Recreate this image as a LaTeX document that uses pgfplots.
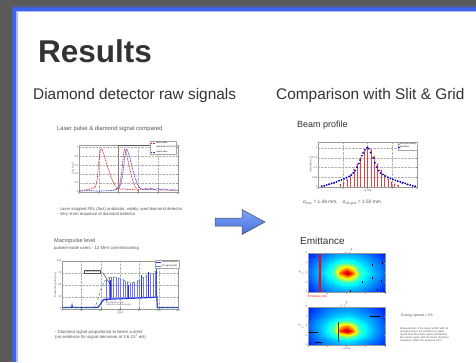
\documentclass[border=0pt]{standalone}
\usepackage{pgfplots}
\pgfplotsset{compat=1.18}
\usepackage{pgfplotstable}
\usepackage{fontspec}
\setmainfont{Liberation Sans}
\definecolor{bggray}{HTML}{5A5A5A}
\definecolor{slideblue}{HTML}{3D63F2}
\definecolor{txt}{HTML}{333333}
\definecolor{arrowtop}{HTML}{80A4F5}
\definecolor{arrowbot}{HTML}{4570E2}
\definecolor{dred}{HTML}{D01818}
\definecolor{dblue}{HTML}{2233DD}
\definecolor{dgreen}{HTML}{3A9A3A}
\definecolor{ltxt}{HTML}{555555}

\pgfplotsset{
  mini/.style={scale only axis, axis line style={gray!80, line width=0.3pt},
    tick style={gray, line width=0.25pt}, major tick length=1.2pt,
    tick label style={font=\fontsize{2.6}{3}\selectfont, text=ltxt, inner sep=0.6pt},
    label style={font=\fontsize{2.6}{3}\selectfont, text=ltxt, inner sep=0.5pt},
    /pgf/number format/assume math mode=true,
    legend style={font=\fontsize{2.2}{2.6}\selectfont, draw=gray!70, line width=0.2pt,
      inner sep=0.4pt, outer sep=0pt, row sep=-0.8pt, nodes={inner sep=0.4pt}},
    legend cell align=left,
    legend image code/.code={\draw[mark repeat=2,mark phase=2,#1] plot coordinates {(0pt,0pt) (2.5pt,0pt) (5pt,0pt)};},
    grid style={densely dotted, gray!60, line width=0.25pt},
  },
}

\pgfplotstableread[row sep=\\]{
x y v\\
0 0 0.14\\1 0 0.18\\2 0 0.21\\3 0 0.23\\4 0 0.26\\5 0 0.27\\6 0 0.28\\7 0 0.27\\8 0 0.26\\9 0 0.23\\10 0 0.21\\11 0 0.18\\12 0 0.14\\
0 1 0.17\\1 1 0.21\\2 1 0.25\\3 1 0.28\\4 1 0.31\\5 1 0.33\\6 1 0.34\\7 1 0.33\\8 1 0.31\\9 1 0.28\\10 1 0.25\\11 1 0.21\\12 1 0.17\\
0 2 0.19\\1 2 0.24\\2 2 0.28\\3 2 0.32\\4 2 0.36\\5 2 0.41\\6 2 0.44\\7 2 0.41\\8 2 0.36\\9 2 0.32\\10 2 0.28\\11 2 0.24\\12 2 0.19\\
0 3 0.21\\1 3 0.26\\2 3 0.30\\3 3 0.35\\4 3 0.42\\5 3 0.60\\6 3 0.72\\7 3 0.60\\8 3 0.42\\9 3 0.35\\10 3 0.30\\11 3 0.26\\12 3 0.21\\
0 4 0.22\\1 4 0.27\\2 4 0.32\\3 4 0.38\\4 4 0.46\\5 4 0.78\\6 4 0.96\\7 4 0.78\\8 4 0.46\\9 4 0.38\\10 4 0.32\\11 4 0.27\\12 4 0.22\\
0 5 0.21\\1 5 0.26\\2 5 0.30\\3 5 0.35\\4 5 0.42\\5 5 0.60\\6 5 0.72\\7 5 0.60\\8 5 0.42\\9 5 0.35\\10 5 0.30\\11 5 0.26\\12 5 0.21\\
0 6 0.19\\1 6 0.24\\2 6 0.28\\3 6 0.32\\4 6 0.36\\5 6 0.41\\6 6 0.44\\7 6 0.41\\8 6 0.36\\9 6 0.32\\10 6 0.28\\11 6 0.24\\12 6 0.19\\
0 7 0.17\\1 7 0.21\\2 7 0.25\\3 7 0.28\\4 7 0.31\\5 7 0.33\\6 7 0.34\\7 7 0.33\\8 7 0.31\\9 7 0.28\\10 7 0.25\\11 7 0.21\\12 7 0.17\\
0 8 0.14\\1 8 0.18\\2 8 0.21\\3 8 0.23\\4 8 0.26\\5 8 0.27\\6 8 0.28\\7 8 0.27\\8 8 0.26\\9 8 0.23\\10 8 0.21\\11 8 0.18\\12 8 0.14\\
}\heatA

\pgfplotstableread[row sep=\\]{
x y v\\
0 0 0.15\\1 0 0.19\\2 0 0.22\\3 0 0.25\\4 0 0.27\\5 0 0.29\\6 0 0.30\\7 0 0.29\\8 0 0.27\\9 0 0.25\\10 0 0.22\\11 0 0.19\\12 0 0.16\\
0 1 0.17\\1 1 0.22\\2 1 0.26\\3 1 0.29\\4 1 0.32\\5 1 0.35\\6 1 0.37\\7 1 0.35\\8 1 0.32\\9 1 0.29\\10 1 0.26\\11 1 0.22\\12 1 0.18\\
0 2 0.19\\1 2 0.24\\2 2 0.29\\3 2 0.34\\4 2 0.40\\5 2 0.50\\6 2 0.56\\7 2 0.49\\8 2 0.39\\9 2 0.34\\10 2 0.29\\11 2 0.24\\12 2 0.20\\
0 3 0.20\\1 3 0.26\\2 3 0.31\\3 3 0.37\\4 3 0.48\\5 3 0.82\\6 3 0.96\\7 3 0.78\\8 3 0.46\\9 3 0.37\\10 3 0.31\\11 3 0.26\\12 3 0.21\\
0 4 0.21\\1 4 0.26\\2 4 0.31\\3 4 0.36\\4 4 0.44\\5 4 0.66\\6 4 0.76\\7 4 0.62\\8 4 0.42\\9 4 0.36\\10 4 0.30\\11 4 0.25\\12 4 0.20\\
0 5 0.20\\1 5 0.25\\2 5 0.29\\3 5 0.33\\4 5 0.37\\5 5 0.42\\6 5 0.45\\7 5 0.41\\8 5 0.36\\9 5 0.32\\10 5 0.28\\11 5 0.24\\12 5 0.19\\
0 6 0.18\\1 6 0.22\\2 6 0.26\\3 6 0.29\\4 6 0.32\\5 6 0.34\\6 6 0.35\\7 6 0.34\\8 6 0.31\\9 6 0.29\\10 6 0.25\\11 6 0.22\\12 6 0.17\\
0 7 0.16\\1 7 0.20\\2 7 0.23\\3 7 0.26\\4 7 0.28\\5 7 0.29\\6 7 0.30\\7 7 0.29\\8 7 0.27\\9 7 0.25\\10 7 0.22\\11 7 0.20\\12 7 0.16\\
0 8 0.14\\1 8 0.18\\2 8 0.21\\3 8 0.23\\4 8 0.25\\5 8 0.26\\6 8 0.26\\7 8 0.26\\8 8 0.24\\9 8 0.22\\10 8 0.20\\11 8 0.17\\12 8 0.14\\
}\heatB

\begin{document}
\begin{tikzpicture}
\useasboundingbox (0pt,0pt) rectangle (476pt,362pt);
% slide background
\fill[bggray] (0pt,0pt) rectangle (476pt,362pt);
\fill[slideblue!55!bggray] (11.5pt,0pt) rectangle (476pt,355.5pt);
\fill[slideblue] (13pt,0pt) rectangle (476pt,354pt);
\fill[slideblue!45!white] (16pt,0pt) rectangle (476pt,351pt);
\fill[white] (17.5pt,0pt) rectangle (476pt,349.5pt);

% titles
\node[anchor=base west, inner sep=0pt, text=txt, font=\fontsize{31.5}{32}\selectfont\bfseries] at (38pt,299pt) {Results};
\node[anchor=base west, inner sep=0pt, text=txt, font=\fontsize{15.4}{16}\selectfont] at (33pt,262pt) {Diamond detector raw signals};
\node[anchor=base west, inner sep=0pt, text=txt, font=\fontsize{15.4}{16}\selectfont] at (276pt,262pt) {Comparison with Slit \& Grid};

% ---------- top-left chart
\node[anchor=base west, inner sep=0pt, text=ltxt, font=\fontsize{5.9}{6}\selectfont] at (57pt,232pt) {Laser pulse \& diamond signal compared};
\begin{axis}[mini, at={(79pt,170pt)}, anchor=south west, width=99pt, height=47pt,
  xmin=0, xmax=100, ymin=0, ymax=1.05,
  xtick={0,20,40,60,80,100}, xticklabels={0,2,4,6,8,10},
  ytick={0,0.2,0.4,0.6,0.8,1}, yticklabels={0,0.2,0.4,0.6,0.8,1},
  grid=major, ylabel={Sig. [a.u.]}, ylabel style={yshift=-1pt},
  legend style={at={(0.72,1.09)}, anchor=north west, row sep=0.6pt}]
\addplot[dred, line width=0.6pt, dash pattern=on 1pt off 0.7pt] coordinates {
(0,0.03)(4,0.04)(8,0.05)(12,0.07)(15,0.09)(17,0.14)(18.5,0.3)(19.5,0.55)(20.5,0.78)(21.5,0.92)(22.5,0.97)(23.5,0.95)(25,0.85)(27,0.7)(29,0.55)(31,0.42)(33,0.3)(35,0.2)(37,0.12)(39,0.08)(41,0.07)(43,0.06)(45,0.07)(48,0.06)(52,0.05)(56,0.05)(60,0.04)(65,0.06)(68,0.08)(70,0.05)(75,0.06)(78,0.04)(82,0.05)(86,0.04)(90,0.05)(95,0.03)(100,0.03)};
\addlegendentry{laser pulse}
\addlegendimage{empty legend}
\addlegendentry{diamond x 1E-4 (V)}
\addplot[dblue, line width=0.6pt, dash pattern=on 1pt off 0.7pt] coordinates {
(0,0.02)(10,0.03)(20,0.02)(30,0.03)(36,0.04)(40,0.08)(42,0.15)(44,0.35)(45.5,0.65)(47,0.88)(48,0.96)(49,0.93)(51,0.8)(53,0.62)(55,0.45)(57,0.3)(59,0.18)(61,0.1)(63,0.07)(66,0.05)(70,0.06)(73,0.09)(76,0.05)(80,0.08)(83,0.05)(86,0.07)(90,0.04)(95,0.05)(100,0.04)};
\addlegendentry{beam trace}
\addplot[dred, line width=0.6pt, dash pattern=on 1pt off 0.7pt, forget plot] coordinates {
(36,0.05)(39,0.08)(41,0.15)(43,0.4)(44.5,0.75)(45.5,0.92)(46.5,0.96)(48,0.85)(50,0.65)(52,0.45)(54,0.28)(56,0.15)(58,0.08)(60,0.05)};
\draw[gray, line width=0.4pt] (axis cs:39.4,0) -- (axis cs:39.4,1.05);
\draw[gray!70!black, line width=0.6pt] (axis cs:39.4,1.05) -- (axis cs:72,1.05);
\end{axis}
\node[anchor=base west, inner sep=0pt, text=ltxt, font=\fontsize{4.2}{4.5}\selectfont] at (57pt,152pt) {- Laser stopped FEL (fast) undulator, widely used diamond detector};
\node[anchor=base west, inner sep=0pt, text=ltxt, font=\fontsize{4.2}{4.5}\selectfont] at (57pt,147pt) {- Very short response of diamond detector};

% ---------- bottom-left chart
\node[anchor=base west, inner sep=0pt, text=ltxt, font=\fontsize{5.5}{6}\selectfont] at (54pt,120pt) {Macropulse level};
\node[anchor=base west, inner sep=0pt, text=ltxt, font=\fontsize{4.3}{4.5}\selectfont] at (54pt,113pt) {pulsed-mode users - 12 MeV commissioning};
\begin{axis}[mini, at={(62pt,53pt)}, anchor=south west, width=116pt, height=48pt,
  xmin=0, xmax=6, ymin=0, ymax=100,
  xtick={0,1,2,3,4,5,6}, xticklabels={0,20,40,60,80,100,120},
  ytick={0,25,50,75,100},
  grid=major, ylabel={Diamond signal [a.u.]}, xlabel={t [µs]},
  xlabel style={yshift=1.5pt}, ylabel style={yshift=-1pt},
  legend style={at={(1.01,1.01)}, anchor=north east}]
\addplot[dblue, line width=1.2pt] coordinates {
(0,3)(0.3,3.2)(0.5,3)(0.52,7)(0.54,3)(1,3.3)(1.5,3)(1.86,3.5)(1.95,8)(2.05,14)(2.15,19)(2.22,20)(2.5,20.5)(2.8,21)(3.1,21.5)(3.4,22)(3.7,22.5)(4.0,23)(4.3,23.5)(4.6,24)(4.91,25)(4.93,3)(5.5,3)(6,3)};
\addlegendentry{Diamond (beam)}
\addplot[blue!55, line width=0.25pt, unbounded coords=jump] coordinates {
(2.3,20)(2.3,60)(2.3,nan)(2.42,20)(2.42,64)(2.42,nan)(2.54,20)(2.54,66)(2.54,nan)(2.66,20)(2.66,67)(2.66,nan)(2.78,21)(2.78,66)(2.78,nan)(2.9,21)(2.9,64)(2.9,nan)(3.02,21)(3.02,62)(3.02,nan)(3.14,21)(3.14,61)(3.14,nan)(3.26,22)(3.26,59)(3.26,nan)(3.38,22)(3.38,57)(3.38,nan)(3.5,22)(3.5,55)(3.5,nan)(3.62,22)(3.62,55)(3.62,nan)(3.74,22)(3.74,56)(3.74,nan)(3.86,23)(3.86,58)(3.86,nan)(3.98,23)(3.98,60)(3.98,nan)(4.1,23)(4.1,63)(4.1,nan)(4.22,23)(4.22,66)(4.22,nan)(4.34,24)(4.34,69)(4.34,nan)(4.46,24)(4.46,71)(4.46,nan)(4.58,24)(4.58,73)(4.58,nan)(4.7,24)(4.7,76)(4.7,nan)(4.82,25)(4.82,78)};
\addlegendentry{FC signal (x10)}
\addplot[dblue, line width=0.55pt, unbounded coords=jump, forget plot] coordinates {
(2.48,20)(2.48,60)(2.48,nan)(3.41,22)(3.41,50)(3.41,nan)(4.09,23)(4.09,71)(4.09,nan)(4.45,24)(4.45,77)(4.45,nan)(4.87,25)(4.87,85)};
\addplot[dgreen, line width=0.5pt, densely dashed, forget plot] coordinates {
(0,3)(1.6,3)(1.75,8)(1.9,25)(2.05,45)(2.2,58)(2.4,65)(2.6,67)(2.85,66)(3.1,62)(3.35,57)(3.6,55)(3.8,56)(4.0,61)(4.25,67)(4.5,72)(4.75,77)(4.88,79)(4.9,40)(4.93,3)(6,3)};
\draw[black, line width=0.3pt] (axis cs:2.1,76) -- (axis cs:2.55,48);
\node[draw=ltxt, line width=0.2pt, fill=white, inner sep=0.6pt, font=\fontsize{2.6}{3}\selectfont, text=ltxt] at (axis cs:1.55,78) {Laser pulses};
\draw[black, line width=0.3pt] (axis cs:2.28,20) -- (axis cs:2.33,15);
\node[anchor=north west, inner sep=0.2pt, align=left, font=\fontsize{2.2}{2.5}\selectfont, text=ltxt] at (axis cs:2.25,15) {first electrons from\\[-0.8pt] cathode in machine pulse};
\end{axis}
\node[anchor=base west, inner sep=0pt, text=ltxt, font=\fontsize{4.3}{4.5}\selectfont] at (55pt,29pt) {- Diamond signal proportional to beam current};
\node[anchor=base west, inner sep=0pt, text=ltxt, font=\fontsize{4.3}{4.5}\selectfont] at (55pt,23.5pt) {(no evidence for signal decrease at 3.6·10\textsuperscript{7} e/s)};

% ---------- arrow
\path[draw=gray!60!black, line width=0.5pt, top color=arrowtop, bottom color=arrowbot]
  (215pt,136pt) -- (242pt,136pt) -- (242pt,127.5pt) -- (265pt,140pt) -- (242pt,152.5pt) -- (242pt,144pt) -- (215pt,144pt) -- cycle;

% ---------- beam profile
\node[anchor=base west, inner sep=0pt, text=txt, font=\fontsize{9}{10}\selectfont] at (297pt,234pt) {Beam profile};
\begin{axis}[mini, at={(318pt,175pt)}, anchor=south west, width=99pt, height=45pt,
  xmin=-8, xmax=8, ymin=0, ymax=1.15,
  xtick={-8,-4,0,4,8}, ytick={0,0.25,0.5,0.75,1},
  grid=major, xlabel={x [mm]}, ylabel={Intensity [a.u.]},
  xlabel style={yshift=1.5pt}, ylabel style={yshift=-1pt},
  legend style={at={(1,1)}, anchor=north east}]
\addplot[dred!80, line width=0.55pt, ycomb, forget plot] coordinates {
(-4.4,0.06)(-3.85,0.1)(-3.3,0.18)(-2.75,0.3)(-2.2,0.44)(-1.65,0.58)(-1.1,0.74)(-0.55,0.9)(0,1.02)(0.55,0.95)(1.1,0.78)(1.65,0.58)(2.2,0.42)(2.75,0.3)(3.3,0.2)(3.85,0.12)(4.4,0.07)(4.9,0.04)};
\addplot[dred, only marks, mark=x, mark size=0.8pt, line width=0.3pt, forget plot] coordinates {
(-4.4,0.06)(-3.85,0.1)(-3.3,0.18)(-2.75,0.3)(-2.2,0.44)(-1.65,0.58)(-1.1,0.74)(-0.55,0.9)(0,1.02)(0.55,0.95)(1.1,0.78)(1.65,0.58)(2.2,0.42)(2.75,0.3)(3.3,0.2)(3.85,0.12)(4.4,0.07)(4.9,0.04)(-6.2,0.07)(-5.4,0.1)(5.6,0.09)(6.4,0.06)};
\addplot[blue!85!black, only marks, mark=*, mark size=0.7pt, forget plot] coordinates {
(-7.4,0.02)(-7,0.03)(-6.6,0.05)(-6.2,0.07)(-5.8,0.09)(-5.4,0.11)(-5,0.13)(-4.6,0.16)(-4.2,0.18)(-3.8,0.21)(-3.4,0.24)(-3,0.27)(-2.6,0.31)(-2.3,0.36)(-2,0.42)(-1.7,0.51)(-1.4,0.6)(-1.2,0.69)(-0.9,0.8)(-0.7,0.87)(-0.4,0.95)(-0.1,1.0)(0.2,0.98)(0.5,0.88)(0.9,0.74)(1.2,0.62)(1.5,0.51)(1.8,0.42)(2.1,0.36)(2.5,0.32)(2.9,0.28)(3.3,0.25)(3.7,0.22)(4.1,0.2)(4.5,0.17)(4.9,0.15)(5.3,0.13)(5.7,0.11)(6.1,0.09)(6.5,0.07)(6.9,0.05)(7.3,0.03)(7.7,0.02)};
\addlegendimage{dred, only marks, mark=x, mark size=0.8pt}
\addlegendentry{slit scan (meas.)}
\addlegendimage{blue!85!black, only marks, mark=*, mark size=0.7pt}
\addlegendentry{grid data}
\end{axis}
\node[anchor=base west, inner sep=0pt, text=ltxt, font=\fontsize{4.8}{5}\selectfont] at (303pt,159pt) {σ\textsubscript{rms} = 1.48 mm,\quad σ\textsubscript{slit grid} = 1.50 mm};

% ---------- emittance
\node[anchor=base west, inner sep=0pt, text=txt, font=\fontsize{10}{11}\selectfont] at (300pt,118pt) {Emittance};
\node[inner sep=0pt, text=ltxt, font=\fontsize{2.6}{3}\selectfont] at (349pt,111.3pt) {x -- x$'$};
\begin{axis}[mini, at={(308pt,70pt)}, anchor=south west, width=77pt, height=39pt,
  view={0}{90}, xmin=0, xmax=12, ymin=0, ymax=8, ztick=\empty,
  colormap/jet, point meta min=0, point meta max=1, axis on top,
  xtick={0,3,6,9,12}, xticklabels={-4,-2,0,2,4},
  ytick={0,2,4,6,8}, yticklabels={-2,-1,0,1,2},
  ylabel={x$'$}]
\addplot3[surf, shader=interp, mesh/cols=13] table[x=x, y=y, z=v] {\heatA};
\addplot3[red, line width=1.3pt] coordinates {(1.87,0,1.1) (1.87,8,1.1)};
\addplot3[black, only marks, mark=|, mark size=0.9pt, line width=0.4pt] coordinates {
(9.97,5.5,1.1)(11.5,5.9,1.1)(10,2.9,1.1)(8.4,2.05,1.1)(11.4,2.25,1.1)(10.75,0.4,1.1)(6.5,0.2,1.1)(1.0,7.3,1.1)};
\end{axis}
\node[anchor=base west, inner sep=0pt, text=red, font=\fontsize{2.9}{3}\selectfont] at (308pt,65pt) {Emittance limit};
\node[inner sep=0pt, text=ltxt, font=\fontsize{2.6}{3}\selectfont] at (344pt,58pt) {y -- y$'$};

\begin{axis}[mini, at={(308pt,17pt)}, anchor=south west, width=77pt, height=38pt,
  view={0}{90}, xmin=0, xmax=12, ymin=0, ymax=8, ztick=\empty,
  colormap/jet, point meta min=0, point meta max=1, axis on top,
  xtick={0,3,6,9,12}, xticklabels={-4,-2,0,2,4},
  ytick={0,2,4,6,8}, yticklabels={-2,-1,0,1,2},
  ylabel={y$'$}, xlabel={y [mm]}, xlabel style={yshift=1.5pt}]
\addplot3[surf, shader=interp, mesh/cols=13] table[x=x, y=y, z=v] {\heatB};
\addplot3[black, line width=0.45pt] coordinates {(3,7.9,1.1) (3.4,7.9,1.1)};
\addplot3[black, line width=0.45pt] coordinates {(9.7,6.1,1.1) (11.2,6.1,1.1)};
\addplot3[black, line width=0.45pt] coordinates {(0,2.7,1.1) (1.6,2.7,1.1)};
\addplot3[black, line width=0.45pt] coordinates {(1.1,0.6,1.1) (2.2,0.6,1.1)};
\addplot3[black!80, line width=0.4pt] coordinates {(4.7,4.8,1.1) (4.7,0.6,1.1)};
\end{axis}

\node[anchor=base west, inner sep=0pt, text=ltxt, font=\fontsize{3.5}{4}\selectfont] at (401pt,46pt) {Energy spread = 2\%};
\node[anchor=north west, inner sep=0pt, text=ltxt, text width=50pt, align=left, font=\fontsize{2.6}{3.2}\selectfont] at (400pt,35pt) {Measurement of the beam profile with slit and grid scans, the emittance is determined from the phase space distribution; the results agree with the beam dynamics simulation within the expected error.};
\end{tikzpicture}
\end{document}
